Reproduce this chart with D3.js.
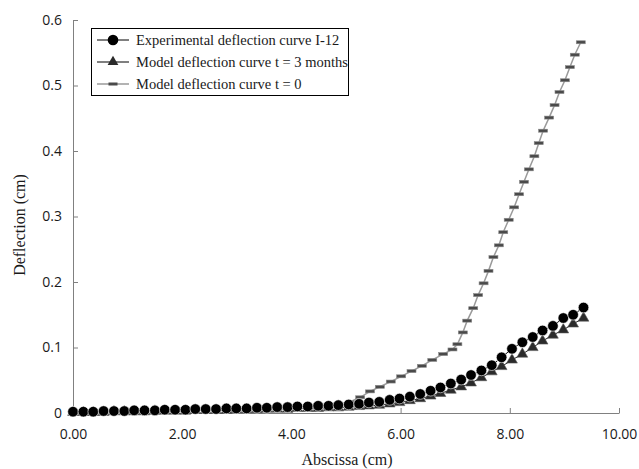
<!DOCTYPE html>
<html>
<head>
<meta charset="utf-8">
<script src="https://d3js.org/d3.v7.min.js"></script>
<style>
    body { margin: 0; background: #fff; }
    #chart text { fill: #1a1a1a; }
</style>
</head>
<body>
<div id="chart"></div>
<script>
// abscissa of the measured points (cm)
var xExp = [0.00, 0.19, 0.37, 0.56, 0.75, 0.94, 1.12, 1.31, 1.50, 1.68,
    1.87, 2.06, 2.24, 2.43, 2.62, 2.81, 2.99, 3.18, 3.37, 3.55,
    3.74, 3.93, 4.11, 4.30, 4.49, 4.68, 4.86, 5.05, 5.24, 5.42,
    5.61, 5.80, 5.98, 6.17, 6.36, 6.55, 6.73, 6.92, 7.11, 7.29,
    7.48, 7.67, 7.85, 8.04, 8.23, 8.42, 8.60, 8.79, 8.98, 9.16, 9.35];

var expY = [0.002, 0.002, 0.002, 0.003, 0.003, 0.003, 0.004, 0.004, 0.004, 0.005,
    0.005, 0.005, 0.006, 0.006, 0.006, 0.007, 0.007, 0.007, 0.008, 0.008,
    0.009, 0.009, 0.010, 0.010, 0.011, 0.011, 0.012, 0.013, 0.014, 0.016,
    0.017, 0.020, 0.022, 0.025, 0.029, 0.034, 0.039, 0.045, 0.051, 0.058,
    0.065, 0.073, 0.085, 0.098, 0.108, 0.116, 0.126, 0.133, 0.145, 0.150, 0.161];

var t3Y = [0.001, 0.001, 0.001, 0.001, 0.002, 0.002, 0.002, 0.002, 0.003, 0.003,
    0.003, 0.003, 0.004, 0.004, 0.004, 0.004, 0.005, 0.005, 0.005, 0.006,
    0.006, 0.006, 0.007, 0.007, 0.007, 0.008, 0.008, 0.009, 0.010, 0.011,
    0.012, 0.014, 0.016, 0.019, 0.022, 0.026, 0.030, 0.035, 0.040, 0.046,
    0.054, 0.063, 0.071, 0.081, 0.090, 0.100, 0.110, 0.119, 0.127, 0.136, 0.145];

// model t = 0 has its own (finer near the end) abscissa
var xT0 = [0.00, 0.19, 0.37, 0.56, 0.75, 0.94, 1.12, 1.31, 1.50, 1.68,
    1.87, 2.06, 2.24, 2.43, 2.62, 2.81, 2.99, 3.18, 3.37, 3.55,
    3.74, 3.93, 4.11, 4.30, 4.49, 4.68, 4.86,
    5.07, 5.26, 5.44, 5.62, 5.82, 6.01, 6.20, 6.39, 6.58, 6.78,
    6.95, 7.04, 7.14, 7.22, 7.33, 7.42, 7.52, 7.61, 7.70, 7.80,
    7.88, 7.98, 8.08, 8.17, 8.26, 8.35, 8.45, 8.53, 8.61, 8.72,
    8.82, 8.91, 9.01, 9.10, 9.19, 9.30];

var t0Y = [0.002, 0.002, 0.003, 0.003, 0.003, 0.004, 0.004, 0.004, 0.005, 0.005,
    0.005, 0.006, 0.006, 0.006, 0.007, 0.007, 0.008, 0.008, 0.008, 0.009,
    0.009, 0.010, 0.010, 0.011, 0.012, 0.013, 0.014,
    0.017, 0.024, 0.033, 0.040, 0.048, 0.056, 0.064, 0.072, 0.081, 0.090,
    0.097, 0.105, 0.123, 0.141, 0.160, 0.180, 0.198, 0.217, 0.238, 0.256,
    0.276, 0.295, 0.314, 0.334, 0.353, 0.372, 0.392, 0.412, 0.431, 0.451,
    0.470, 0.490, 0.508, 0.528, 0.547, 0.566];

var xTicks = [0, 2, 4, 6, 8, 10];
var yTicks = [0, 0.1, 0.2, 0.3, 0.4, 0.5, 0.6];
var legendLabels = ["Experimental deflection curve I-12", "Model deflection curve t = 3 months", "Model deflection curve t = 0"];

function zip(xs, ys) {
    return xs.map(function (x, i) { return {x: x, y: ys[i]}; });
}

drawChart();

function drawChart() {
    var width = 639, height = 469;
    var plot = { left: 73, right: 619, top: 20, bottom: 413 };

    var svg = d3.select("#chart").append("svg")
        .attr("width", width)
        .attr("height", height);

    var x = d3.scaleLinear().domain([0, 10]).range([plot.left, plot.right]);
    var y = d3.scaleLinear().domain([0, 0.6]).range([plot.bottom, plot.top]);

    var tickFont = "'Open Sans', sans-serif";
    var serif = "'Liberation Serif', 'Times New Roman', serif";

    var xAxis = svg.append("g")
        .attr("transform", "translate(0," + plot.bottom + ")")
        .call(d3.axisBottom(x).tickValues(xTicks).tickFormat(d3.format(".2f"))
            .tickSizeInner(-5).tickSizeOuter(0).tickPadding(16));

    var yAxis = svg.append("g")
        .attr("transform", "translate(" + plot.left + ",0)")
        .call(d3.axisLeft(y).tickValues(yTicks)
            .tickFormat(function (d) { return d === 0 ? "0" : d3.format(".1f")(d); })
            .tickSizeInner(-5).tickSizeOuter(0).tickPadding(11));

    [xAxis, yAxis].forEach(function (a) {
        a.select(".domain").attr("stroke", "#808080");
        a.selectAll(".tick line").attr("stroke", "#808080");
        a.selectAll("text").style("font-family", tickFont).style("font-size", "14px");
    });

    // axis titles
    svg.append("text")
        .attr("x", 347)
        .attr("y", 465)
        .attr("text-anchor", "middle")
        .style("font-family", serif)
        .style("font-size", "16px")
        .text("Abscissa (cm)");

    svg.append("text")
        .attr("transform", "translate(25,225) rotate(-90)")
        .attr("text-anchor", "middle")
        .style("font-family", serif)
        .style("font-size", "16px")
        .text("Deflection (cm)");

    var line = d3.line()
        .x(function (d) { return x(d.x); })
        .y(function (d) { return y(d.y); });

    var t0 = zip(xT0, t0Y);
    var t3 = zip(xExp, t3Y);
    var ex = zip(xExp, expY);

    // model t = 0 : grey line, small dash markers
    svg.append("path")
        .attr("d", line(t0))
        .attr("fill", "none")
        .attr("stroke", "#9a9a9a")
        .attr("stroke-width", 1.5);

    svg.selectAll(".dash")
        .data(t0)
        .enter().append("rect")
        .attr("class", "dash")
        .attr("x", function (d) { return x(d.x) - 4.5; })
        .attr("y", function (d) { return y(d.y) - 1.5; })
        .attr("width", 9)
        .attr("height", 3)
        .attr("fill", "#4a4a4a")
        .attr("stroke", "#8a8a8a")
        .attr("stroke-width", 0.6);

    // model t = 3 months : triangles
    svg.append("path")
        .attr("d", line(t3))
        .attr("fill", "none")
        .attr("stroke", "#222")
        .attr("stroke-width", 1);

    var tri = d3.symbol().type(d3.symbolTriangle).size(50);
    svg.selectAll(".tri")
        .data(t3)
        .enter().append("path")
        .attr("class", "tri")
        .attr("d", tri)
        .attr("transform", function (d) { return "translate(" + x(d.x) + "," + y(d.y) + ")"; })
        .attr("fill", "#2b2b2b")
        .attr("stroke", "#555")
        .attr("stroke-width", 0.6);

    // experimental : black circles
    svg.append("path")
        .attr("d", line(ex))
        .attr("fill", "none")
        .attr("stroke", "#000")
        .attr("stroke-width", 1);

    svg.selectAll(".dot")
        .data(ex)
        .enter().append("circle")
        .attr("class", "dot")
        .attr("cx", function (d) { return x(d.x); })
        .attr("cy", function (d) { return y(d.y); })
        .attr("r", 5.3)
        .attr("fill", "#000")
        .attr("stroke", "#fff")
        .attr("stroke-width", 0.6);

    // legend
    var legend = svg.append("g");
    legend.append("rect")
        .attr("x", 91.5)
        .attr("y", 28.5)
        .attr("width", 257)
        .attr("height", 67)
        .attr("fill", "#fff")
        .attr("stroke", "#000")
        .attr("stroke-width", 1);

    var rowY = [40, 62, 84];
    legendLabels.forEach(function (label, i) {
        var ly = rowY[i];
        legend.append("line")
            .attr("x1", 97).attr("x2", 129)
            .attr("y1", ly).attr("y2", ly)
            .attr("stroke", i == 2 ? "#9a9a9a" : "#000")
            .attr("stroke-width", i == 2 ? 1.5 : 1);
        if (i == 0) {
            legend.append("circle").attr("cx", 113).attr("cy", ly).attr("r", 5.3).attr("fill", "#000");
        } else if (i == 1) {
            legend.append("path").attr("d", tri)
                .attr("transform", "translate(113," + ly + ")")
                .attr("fill", "#2b2b2b");
        } else {
            legend.append("rect").attr("x", 108.5).attr("y", ly - 1.5)
                .attr("width", 9).attr("height", 3).attr("fill", "#4a4a4a");
        }
        legend.append("text")
            .attr("x", 136)
            .attr("y", ly)
            .attr("dy", "0.35em")
            .style("font-family", serif)
            .style("font-size", "14.5px")
            .text(label);
    });
}
</script>
</body>
</html>
